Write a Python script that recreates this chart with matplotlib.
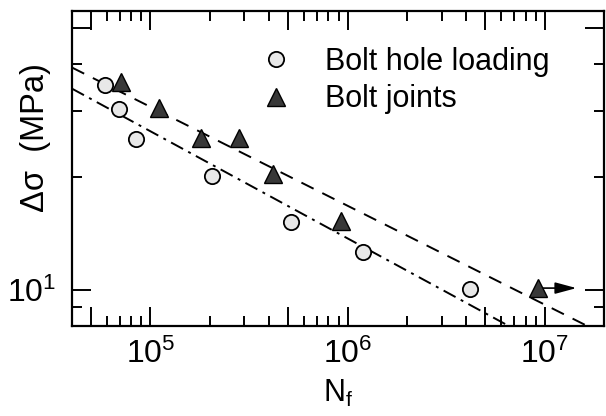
import matplotlib
matplotlib.use("Agg")
import numpy as np
import matplotlib.pyplot as plt
from matplotlib.ticker import LogLocator, FuncFormatter, NullFormatter

plt.rcParams['font.family'] = ['Liberation Sans', 'DejaVu Sans']
plt.rcParams['mathtext.fontset'] = 'custom'
plt.rcParams['mathtext.rm'] = 'Liberation Sans'
plt.rcParams['mathtext.it'] = 'Liberation Sans:italic'

# bolt hole loading (circles)
hole_N = [5.9e4, 6.9e4, 8.4e4, 2.05e5, 5.15e5, 1.2e6, 4.2e6]
hole_S = [35.2, 30.4, 25.3, 20.1, 15.2, 12.6, 10.05]

# bolt joints (triangles)
joint_N = [7.1e4, 1.11e5, 1.81e5, 2.8e5, 4.2e5, 9.3e5, 9.2e6]
joint_S = [35.9, 30.5, 25.4, 25.4, 20.4, 15.3, 10.1]

# power law fits S = A * N^b
joint_fit = (643.0, -0.264)
hole_fit = (713.0, -0.286)

# run-out arrow (last joint specimen)
runout_tip_N = 1.45e7

xlim = (4e4, 2e7)
ylim = (8.0, 55.5)

fig = plt.figure(figsize=(6.06, 4.16), dpi=100)
ax = fig.add_axes([72 / 606, 1 - 326 / 416, 532 / 606, 315 / 416])

n_line = np.array(xlim)
ax.plot(n_line, joint_fit[0] * n_line ** joint_fit[1], color='black', lw=1.4,
        dashes=(7, 5), zorder=1)
ax.plot(n_line, hole_fit[0] * n_line ** hole_fit[1], color='black', lw=1.4,
        dashes=(7, 3, 1.5, 3), zorder=1)

ax.annotate('', xy=(runout_tip_N, joint_S[-1]), xytext=(joint_N[-1], joint_S[-1]),
            arrowprops=dict(arrowstyle='-|>,head_length=1.3,head_width=0.35',
                            color='black', lw=1.2, shrinkA=0, shrinkB=0),
            zorder=2)

ax.plot(hole_N, hole_S, 'o', ms=11, mfc='#e8e8e8', mec='black', mew=1.3,
        ls='none', zorder=3, label='Bolt hole loading')
ax.plot(joint_N, joint_S, '^', ms=13, mfc='#383838', mec='black', mew=1.0,
        ls='none', zorder=3, label='Bolt joints')

ax.set_xscale('log')
ax.set_yscale('log')
ax.set_xlim(xlim)
ax.set_ylim(ylim)


def pow_label(v, pos):
    e = np.log10(v)
    if abs(e - round(e)) < 1e-6:
        return r'10$^{%d}$' % round(e)
    return ''


for axis in (ax.xaxis, ax.yaxis):
    axis.set_major_locator(LogLocator(base=10, subs=(1.0, 5.0)))
    axis.set_major_formatter(FuncFormatter(pow_label))
    axis.set_minor_locator(LogLocator(base=10, subs=(2, 3, 4, 6, 7, 8, 9)))
    axis.set_minor_formatter(NullFormatter())

ax.tick_params(which='both', direction='in', top=True, right=True, width=1.4)
ax.tick_params(which='major', length=14, labelsize=23, pad=9)
ax.tick_params(axis='y', which='major', pad=11)
ax.tick_params(which='minor', length=7)
for sp in ax.spines.values():
    sp.set_linewidth(1.6)

ax.set_xlabel(r'N$_\mathrm{f}$', fontsize=22, labelpad=6)
ax.set_ylabel('Δσ  (MPa)', fontsize=23.5)
ax.yaxis.set_label_coords(-0.04, 0.597)

ax.legend(loc='upper left', bbox_to_anchor=(0.315, 0.955), frameon=False,
          fontsize=22, handlelength=1.0, handletextpad=1.1, labelspacing=0.25,
          borderpad=0.2)

fig.savefig('out.png', dpi=100)
